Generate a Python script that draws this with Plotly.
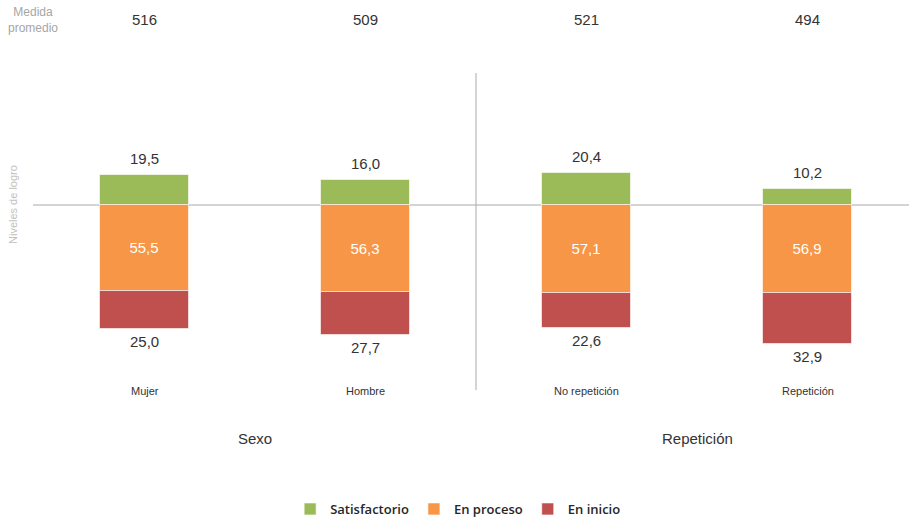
import plotly.graph_objects as go

categories = ["Mujer", "Hombre", "No repetición", "Repetición"]
groups = ["Sexo", "Repetición"]
satisfactorio = [19.5, 16.0, 20.4, 10.2]
en_proceso = [55.5, 56.3, 57.1, 56.9]
en_inicio = [25.0, 27.7, 22.6, 32.9]
medida_promedio = [516, 509, 521, 494]

W, H = 909, 517
px_per_unit = 1.545
base_px = 205
slot = 221.0
first_center = 144.5

xs = list(range(len(categories)))
x0 = -first_center / slot
x1 = x0 + W / slot
ytop = base_px / px_per_unit
ybot = -(H - base_px) / px_per_unit

def fmt(v):
    return f"{v:.1f}".replace(".", ",")

green, orange, red = "#9BBB59", "#F79646", "#C0504D"
bw = 89 / slot
font = "Liberation Sans, Arial, sans-serif"

fig = go.Figure()
fig.add_bar(x=xs, y=satisfactorio, name="Satisfactorio", marker_color=green, width=bw,
            marker_line=dict(color="rgba(255,255,255,0.6)", width=1))
fig.add_bar(x=xs, y=[-v for v in en_proceso], name="En proceso", marker_color=orange, width=bw,
            marker_line=dict(color="rgba(255,255,255,0.6)", width=1),
            text=[fmt(v) for v in en_proceso], textposition="inside", insidetextanchor="middle",
            textfont=dict(color="white", size=15, family=font))
fig.add_bar(x=xs, y=[-v for v in en_inicio], name="En inicio", marker_color=red, width=bw,
            marker_line=dict(color="rgba(255,255,255,0.6)", width=1))

ann = []
for i, c in enumerate(categories):
    ann.append(dict(x=i, y=satisfactorio[i], xref="x", yref="y", text=fmt(satisfactorio[i]),
                    showarrow=False, yanchor="bottom", yshift=6,
                    font=dict(size=15, color="#333333", family=font)))
    ann.append(dict(x=i, y=-(en_proceso[i] + en_inicio[i]), xref="x", yref="y", text=fmt(en_inicio[i]),
                    showarrow=False, yanchor="top", yshift=-2,
                    font=dict(size=15, color="#333333", family=font)))
    ann.append(dict(x=i, y=1 - 391 / H, xref="x", yref="paper", text=c, showarrow=False,
                    yanchor="middle", font=dict(size=11, color="#333333", family=font)))
    ann.append(dict(x=i, y=1 - 19 / H, xref="x", yref="paper", text=str(medida_promedio[i]),
                    showarrow=False, yanchor="middle", font=dict(size=15, color="#333333", family=font)))
for g, gx in zip(groups, [0.5, 2.5]):
    ann.append(dict(x=gx, y=1 - 438 / H, xref="x", yref="paper", text=g, showarrow=False,
                    yanchor="middle", font=dict(size=15, color="#333333", family=font)))
ann.append(dict(x=33 / W, y=1 - 20 / H, xref="paper", yref="paper", text="Medida<br>promedio",
                showarrow=False, xanchor="center", yanchor="middle",
                font=dict(size=12, color="#a6a6a6", family=font)))
ann.append(dict(x=13 / W, y=1 - 205 / H, xref="paper", yref="paper", text="Niveles de logro",
                showarrow=False, textangle=-90, xanchor="center", yanchor="middle",
                font=dict(size=11, color="#bfbfbf", family=font)))

shapes = [
    dict(type="line", xref="paper", yref="y", x0=33 / W, x1=1, y0=0, y1=0,
         line=dict(color="#aaaaaa", width=1), layer="below"),
    dict(type="line", xref="x", yref="paper", x0=1.5, x1=1.5, y0=1 - 73 / H, y1=1 - 390 / H,
         line=dict(color="#aaaaaa", width=1)),
]

fig.update_layout(
    width=W, height=H, margin=dict(l=0, r=0, t=0, b=0, autoexpand=False),
    paper_bgcolor="white", plot_bgcolor="white",
    barmode="relative", bargap=0,
    xaxis=dict(range=[x0, x1], visible=False, fixedrange=True),
    yaxis=dict(range=[ybot, ytop], visible=False, fixedrange=True),
    annotations=ann, shapes=shapes,
    legend=dict(orientation="h", x=0.504, xanchor="center", y=1 - 509 / H, yanchor="middle",
                font=dict(size=13, color="#262626", family="Open Sans, sans-serif", weight=600),
                itemwidth=30, traceorder="normal"),
)
fig.write_html("out.html", config={"displayModeBar": False},
               post_script="document.body.style.margin='0';document.body.style.overflow='hidden';")
